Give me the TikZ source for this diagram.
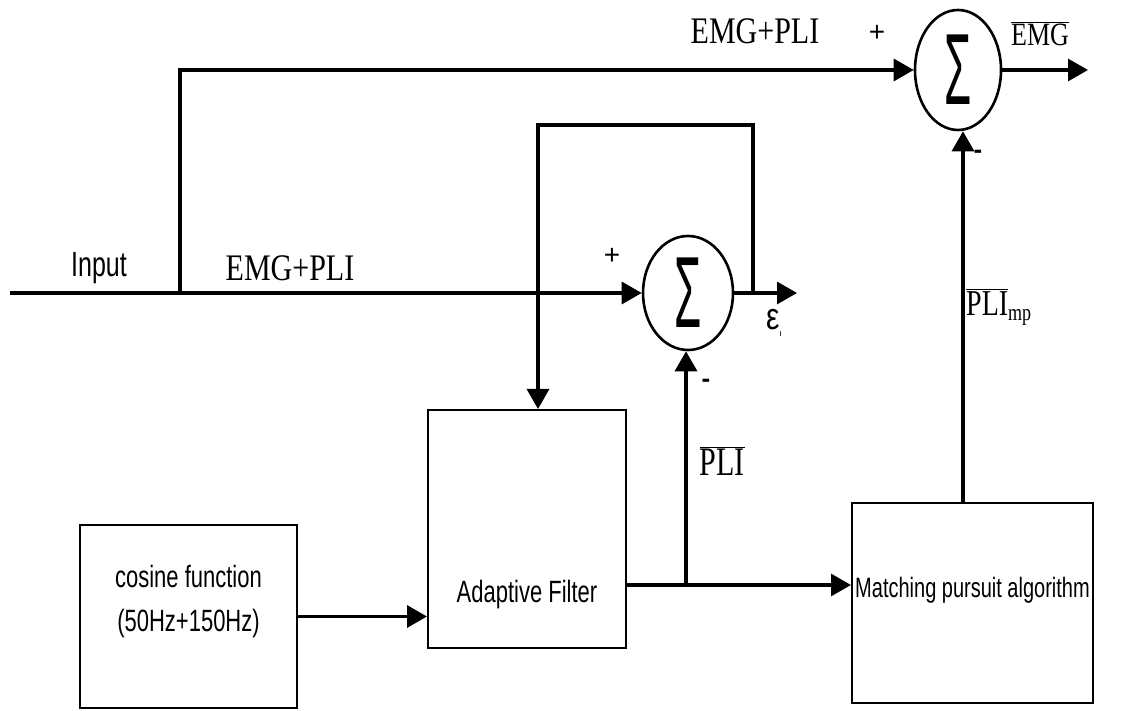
\documentclass[tikz,border=0pt]{standalone}
\usepackage{fontspec}
\setmainfont{Liberation Serif}
\setsansfont{Liberation Sans}
\usepackage{graphicx}
\usetikzlibrary{arrows.meta,shapes.geometric}
\newcommand\vstretch[2][1.25]{\scalebox{1}[#1]{#2}}
\newcommand\bigsig{\sffamily\fontsize{44}{44}\selectfont\scalebox{1}[2.3]{Σ}}
\tikzset{
  wire/.style={line width=3.2pt},
  arr/.style={wire,-{Triangle[length=20pt,width=22pt]}},
  sumnode/.style={ellipse,draw,line width=2.6pt,inner sep=0pt},
  block/.style={draw,line width=2pt,inner sep=0pt},
  btext/.style={inner sep=0pt,align=center,font=\sffamily\fontsize{22}{44}\selectfont},
  lbl/.style={inner sep=0pt,font=\fontsize{30}{30}\selectfont},
  slbl/.style={inner sep=0pt,font=\sffamily\fontsize{25}{25}\selectfont},
  sign/.style={inner sep=0pt,font=\sffamily\bfseries\fontsize{26}{26}\selectfont},
  plus/.style={inner sep=0pt,font=\sffamily\fontsize{28}{28}\selectfont},
}
\begin{document}
\begin{tikzpicture}[x=1pt,y=1pt]
\useasboundingbox (0,0) rectangle (1131,711);
% summing junctions
\node[sumnode,minimum width=90,minimum height=114] (s1) at (688,418) {\bigsig};
\node[sumnode,minimum width=86,minimum height=120] (s2) at (958,641) {\bigsig};
% blocks
\node[block,minimum width=217,minimum height=183] (cos) at (188.5,94.5) {};
\node[block,minimum width=198,minimum height=238] (af) at (527,182) {};
\node[block,minimum width=241,minimum height=200] (mp) at (972.5,108) {};
\node[btext] (cost) at (188.5,109) {\vstretch[1.4]{cosine function}\\\vstretch[1.4]{(50Hz+150Hz)}};
\node[btext] (aft) at (527,116) {\vstretch[1.4]{Adaptive Filter}};
\node[btext,font=\sffamily\fontsize{20}{30}\selectfont] (mpt) at (972.5,121) {\vstretch[1.4]{Matching pursuit algorithm}};
% coordinates
\coordinate (in) at (10,418);
\coordinate (j1) at (180,418);
\coordinate (o1) at (797,418);
\coordinate (o2) at (1088,641);
\coordinate (fb) at (753,418);
\coordinate (fbtop) at (753,586);
\coordinate (fbl) at (538,586);
\coordinate (a1) at (626,126);
\coordinate (j2) at (686,126);
\coordinate (m1) at (963,208);
% connectors
\draw[arr] (in) -- (s1.west);
\draw[arr] (j1) |- (s2.west);
\draw[arr] (s2.east) -- (o2);
\draw[arr] (s1.east) -- (o1);
\draw[arr] (fb) -- (fbtop) -- (fbl) -- (fbl |- af.north);
\draw[arr] (cos.east) -- (cos.east -| af.west);
\draw[arr] (a1) -- (a1 -| mp.west);
\draw[arr] (j2) -- (j2 |- s1.south);
\draw[arr] (m1) -- (m1 |- s2.south);
% labels
\node[slbl] (tin) at (99,443) {\vstretch[1.4]{Input}};
\node[lbl] (t1) at (290,443) {\vstretch{EMG+PLI}};
\node[plus] (tp1) at (612,455) {+};
\node[lbl] (t2) at (755,680) {\vstretch{EMG+PLI}};
\node[plus] (tp2) at (877,678) {+};
\node[lbl] (temg) at (1040,677) {\fontsize{26}{26}\selectfont\vstretch{$\overline{\hbox{EMG}}$}};
\node[lbl] (teps) at (774,388) {\sffamily\fontsize{30}{30}\selectfont\vstretch{ε}\raisebox{-7pt}{\fontsize{9}{9}\selectfont ı}};
\node[sign] (tm1) at (706,328) {-};
\node[lbl] (tpli) at (722,250) {\vstretch[1.35]{$\overline{\hbox{PLI}}$}};
\node[sign] (tm2) at (978,557) {-};
\node[lbl,anchor=west] (tplimp) at (966,404) {\fontsize{28}{28}\selectfont\vstretch[1.3]{$\overline{\hbox{PLI}}$\raisebox{-4pt}{\fontsize{18}{18}\selectfont mp}}};
\end{tikzpicture}
\end{document}
